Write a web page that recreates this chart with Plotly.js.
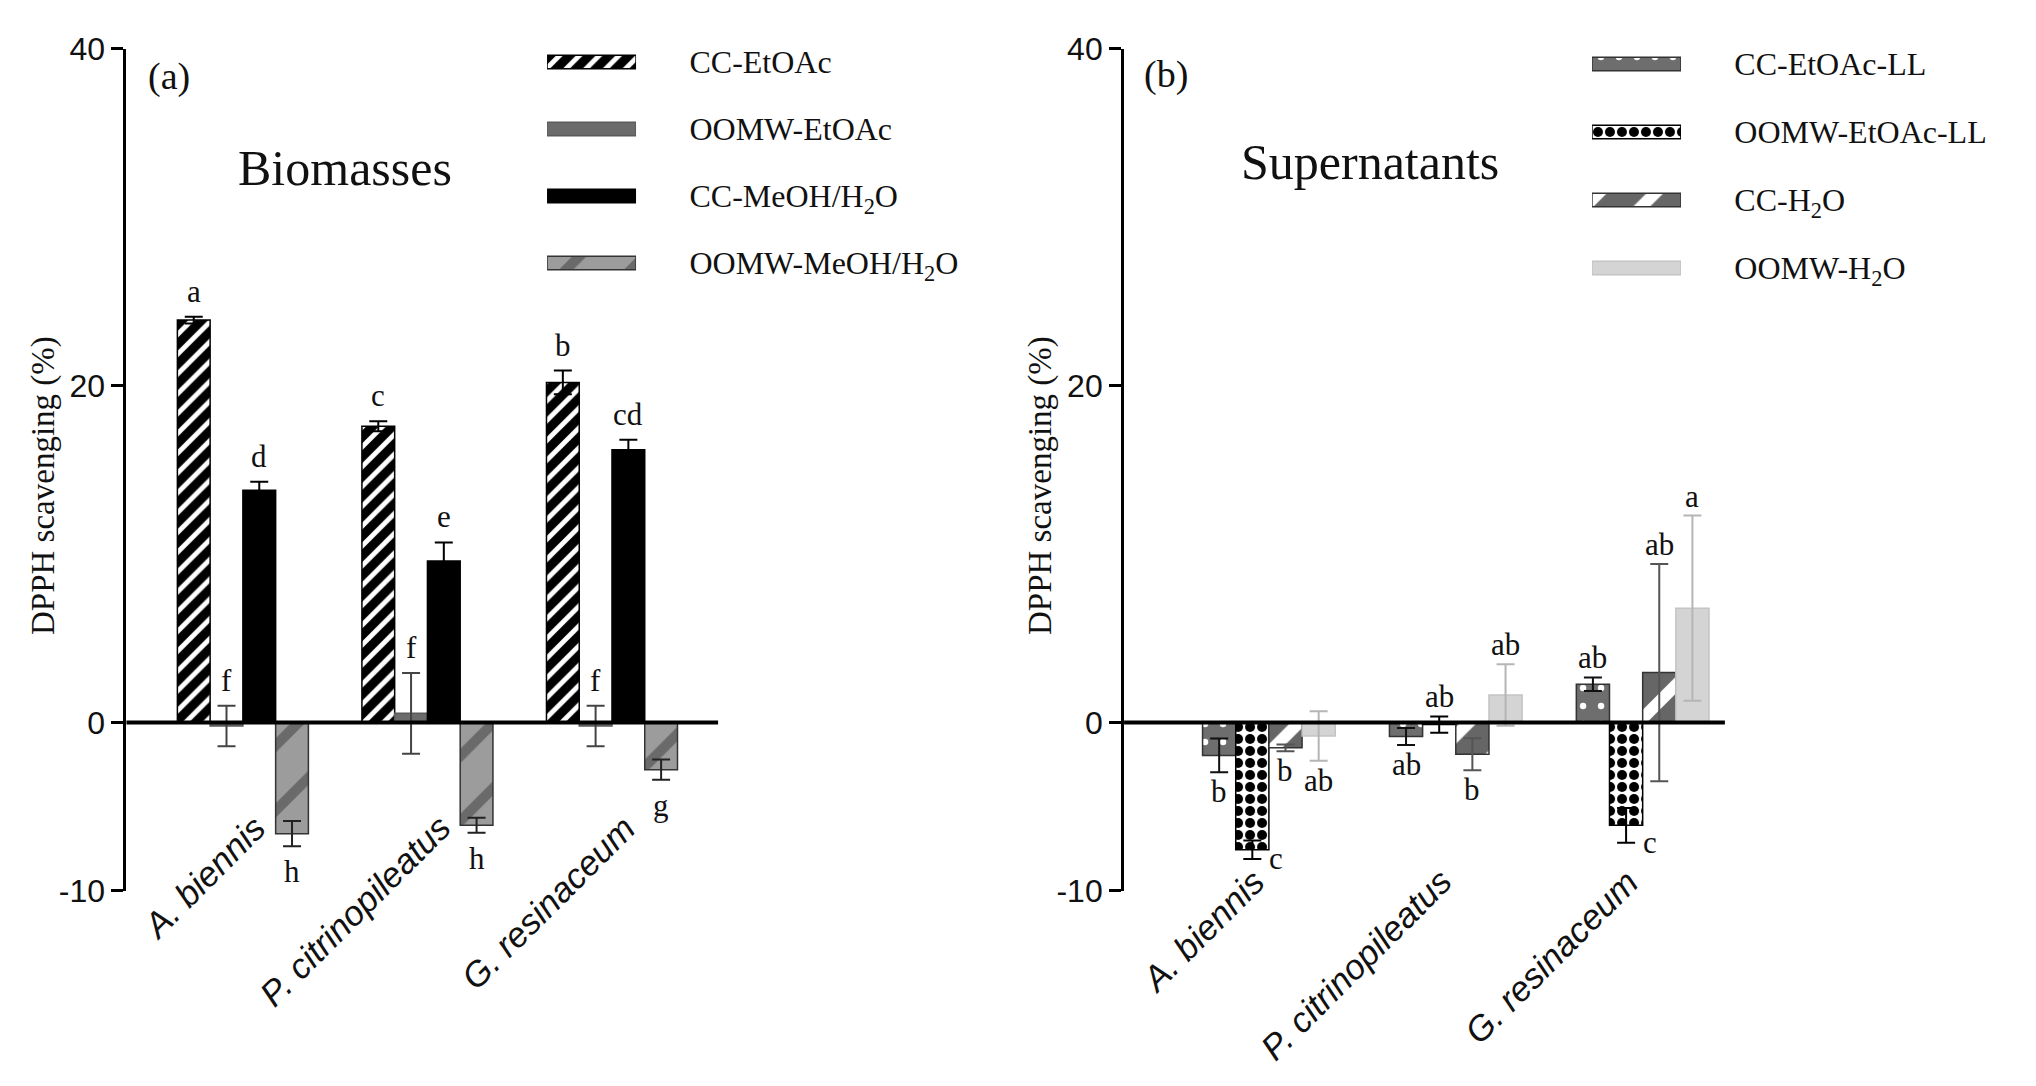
<!DOCTYPE html>
<html>
<head>
<meta charset="utf-8">
<script src="https://cdn.plot.ly/plotly-3.0.1.min.js"></script>
<style>
  html, body { margin: 0; padding: 0; background: #fff; }
  #chart { width: 2036px; height: 1086px; }
</style>
</head>
<body>
<div id="chart"></div>
<script>
// categories (same three fungi in both panels)
const species = ['A. biennis', 'P. citrinopileatus', 'G. resinaceum'];
const yTickVals = [-10, 0, 20, 40];
const yTickText = ['-10', '0', '20', '40'];

// (a) biomasses
const bioNames = ['CC-EtOAc', 'OOMW-EtOAc', 'CC-MeOH/H<sub>2</sub>O', 'OOMW-MeOH/H<sub>2</sub>O'];
const ccEtoac = [23.9, 17.6, 20.2];
const ccEtoacSd = [0.2, 0.3, 0.7];
const oomwEtoac = [-0.2, 0.55, -0.2];
const oomwEtoacSd = [1.2, 2.4, 1.2];
const ccMeoh = [13.8, 9.6, 16.2];
const ccMeohSd = [0.5, 1.1, 0.6];
const oomwMeoh = [-6.6, -6.1, -2.8];
const oomwMeohSd = [0.75, 0.45, 0.6];
const bioLetters = [['a', 'c', 'b'], ['f', 'f', 'f'], ['d', 'e', 'cd'], ['h', 'h', 'g']];

// (b) supernatants
const supNames = ['CC-EtOAc-LL', 'OOMW-EtOAc-LL', 'CC-H<sub>2</sub>O', 'OOMW-H<sub>2</sub>O'];
const ccEtoacLL = [-1.95, -0.83, 2.28];
const ccEtoacLLSd = [1.0, 0.5, 0.4];
const oomwEtoacLL = [-7.55, -0.12, -6.1];
const oomwEtoacLLSd = [0.55, 0.48, 1.03];
const ccH2o = [-1.5, -1.88, 2.97];
const ccH2oSd = [0.2, 0.95, 6.45];
const oomwH2o = [-0.8, 1.64, 6.79];
const oomwH2oSd = [1.47, 1.83, 5.5];
const supLetters = [['b', 'ab', 'ab'], ['c', 'ab', 'c'], ['b', 'b', 'ab'], ['ab', 'ab', 'a']];

// looks of each series
const bioStyle = [
  { bg: '#000000', fg: '#ffffff', shape: '/', size: 14, solidity: 0.35, line: '#000000', err: '#000000' },
  { bg: '#6b6b6b', shape: '', line: '#5a5a5a', err: '#444444' },
  { bg: '#000000', shape: '', line: '#000000', err: '#000000' },
  { bg: '#9c9c9c', fg: '#6a6a6a', shape: '/', size: 46, solidity: 0.22, line: '#333333', err: '#222222' },
];
const supStyle = [
  { bg: '#6e6e6e', fg: '#ffffff', shape: '.', size: 18, solidity: 0.1, line: '#333333', err: '#111111' },
  { bg: '#ffffff', fg: '#000000', shape: '.', size: 12, solidity: 0.55, line: '#000000', err: '#000000', side: true },
  { bg: '#666666', fg: '#ffffff', shape: '/', size: 40, solidity: 0.3, line: '#333333', err: '#555555' },
  { bg: '#d4d4d4', shape: '', line: '#c4c4c4', err: '#b5b5b5' },
];

const BARGAP = 0.29;
const SLOT = (1 - BARGAP) / 4;
const SERIF = 'Liberation Serif, Times New Roman, serif';
const SANS = 'Liberation Sans, Arial, sans-serif';

function markerOf(st) {
  const m = { color: st.bg, line: { color: st.line, width: 1.5 } };
  if (st.shape) {
    m.pattern = {
      shape: st.shape, bgcolor: st.bg, fgcolor: st.fg,
      size: st.size, solidity: st.solidity, fillmode: 'overlay', fgopacity: 1,
    };
  }
  return m;
}

function barTrace(name, vals, sd, st, xa, ya) {
  return {
    type: 'bar', name: name, x: species, y: vals,
    xaxis: xa, yaxis: ya, showlegend: false, hoverinfo: 'skip',
    marker: markerOf(st),
    error_y: { type: 'data', array: sd, visible: true, color: st.err, thickness: 2, width: 9 },
  };
}

function keyTrace(name, st, xa, ya) {
  return {
    type: 'bar', orientation: 'h', x: [1], y: [name], base: 0, width: 0.2,
    offsetgroup: 'key', xaxis: xa, yaxis: ya, showlegend: false, hoverinfo: 'skip',
    marker: markerOf(st),
  };
}

const bioVals = [ccEtoac, oomwEtoac, ccMeoh, oomwMeoh];
const bioSds = [ccEtoacSd, oomwEtoacSd, ccMeohSd, oomwMeohSd];
const supVals = [ccEtoacLL, oomwEtoacLL, ccH2o, oomwH2o];
const supSds = [ccEtoacLLSd, oomwEtoacLLSd, ccH2oSd, oomwH2oSd];

const traces = [];
bioVals.forEach((v, i) => traces.push(barTrace(bioNames[i], v, bioSds[i], bioStyle[i], 'x', 'y')));
supVals.forEach((v, i) => traces.push(barTrace(supNames[i], v, supSds[i], supStyle[i], 'x2', 'y2')));
bioNames.forEach((n, i) => traces.push(keyTrace(n, bioStyle[i], 'x3', 'y3')));
supNames.forEach((n, i) => traces.push(keyTrace(n, supStyle[i], 'x4', 'y4')));

const annotations = [];

// significance letters
function addLetters(vals, sds, letters, styles, xref, yref, lift) {
  vals.forEach((series, si) => {
    series.forEach((v, gi) => {
      const e = sds[si][gi];
      const a = {
        text: letters[si][gi], x: gi + (si - 1.5) * SLOT, xref: xref, yref: yref,
        showarrow: false, font: { family: SERIF, size: 31, color: '#111' },
      };
      if (styles[si].side && v < -0.5) {
        a.y = v - e; a.yanchor = 'middle'; a.xshift = 24;
      } else if (v < -0.5) {
        a.y = v - e; a.yanchor = 'top'; a.yshift = -lift;
      } else {
        a.y = v + e; a.yanchor = 'bottom'; a.yshift = lift;
      }
      annotations.push(a);
    });
  });
}
addLetters(bioVals, bioSds, bioLetters, bioStyle, 'x', 'y', 6);
addLetters(supVals, supSds, supLetters, supStyle, 'x2', 'y2', 0);

// slanted species names
species.forEach((s, gi) => {
  annotations.push({
    text: '<i>' + s + '</i>', x: gi + 0.18, y: -4.9, xref: 'x', yref: 'y',
    xanchor: 'right', yanchor: 'top', textangle: -45, showarrow: false,
    font: { family: SANS, size: 35, color: '#111' },
  });
  annotations.push({
    text: '<i>' + s + '</i>', x: gi + 0.03, y: -8.1, xref: 'x2', yref: 'y2',
    xanchor: 'right', yanchor: 'top', textangle: -45, showarrow: false,
    font: { family: SANS, size: 35, color: '#111' },
  });
});

// panel texts
const W = 2036, H = 1086;
function paperText(text, px, py, size, angle) {
  annotations.push({
    text: text, x: px / W, y: 1 - py / H, xref: 'paper', yref: 'paper',
    xanchor: 'center', yanchor: 'middle', showarrow: false, textangle: angle || 0,
    font: { family: SERIF, size: size, color: '#111' },
  });
}
paperText('DPPH scavenging (%)', 43, 486, 33, -90);
paperText('DPPH scavenging (%)', 1040, 486, 33, -90);
paperText('(a)', 169, 76, 38);
paperText('(b)', 1166, 74, 38);
paperText('Biomasses', 345, 168, 50);
paperText('Supernatants', 1370, 162, 50);

const yBase = {
  range: [-10, 40], tickvals: yTickVals, ticktext: yTickText,
  ticks: 'outside', ticklen: 12, tickwidth: 3, tickcolor: '#000',
  showline: true, linewidth: 3, linecolor: '#000',
  showgrid: false, zeroline: false,
  tickfont: { family: SANS, size: 32, color: '#111' },
  domain: [0.1796, 0.9549], fixedrange: true,
};
const xBase = {
  showline: false, showticklabels: false, ticks: '', showgrid: false,
  zeroline: false, fixedrange: true, type: 'category',
};
const keyX = { range: [0, 1], visible: false, fixedrange: true };
const keyY = {
  side: 'right', ticks: 'outside', ticklen: 46, tickcolor: 'rgba(0,0,0,0)',
  showline: false, showgrid: false, zeroline: false, fixedrange: true,
  tickfont: { family: SERIF, size: 32, color: '#111' }, type: 'category',
};

const layout = {
  width: W, height: H,
  margin: { l: 0, r: 0, t: 0, b: 0 },
  paper_bgcolor: '#fff', plot_bgcolor: 'rgba(0,0,0,0)',
  barmode: 'group', bargap: BARGAP, bargroupgap: 0,
  showlegend: false,
  xaxis: Object.assign({}, xBase, { domain: [0.0621, 0.3527], anchor: 'y', range: [-0.631, 2.575] }),
  yaxis: Object.assign({}, yBase, { anchor: 'x' }),
  xaxis2: Object.assign({}, xBase, { domain: [0.5521, 0.8472], anchor: 'y2', range: [-0.775, 2.44] }),
  yaxis2: Object.assign({}, yBase, { anchor: 'x2' }),
  xaxis3: Object.assign({}, keyX, { domain: [0.2687, 0.3124], anchor: 'y3' }),
  yaxis3: Object.assign({}, keyY, { domain: [0.727, 0.9738], anchor: 'x3', range: [3.5, -0.5] }),
  xaxis4: Object.assign({}, keyX, { domain: [0.7819, 0.8256], anchor: 'y4' }),
  yaxis4: Object.assign({}, keyY, { domain: [0.7219, 0.9724], anchor: 'x4', range: [3.5, -0.5] }),
  shapes: [
    { type: 'line', xref: 'x domain', yref: 'y', x0: 0, x1: 1, y0: 0, y1: 0, line: { color: '#000', width: 4 }, layer: 'above' },
    { type: 'line', xref: 'x2 domain', yref: 'y2', x0: 0, x1: 1, y0: 0, y1: 0, line: { color: '#000', width: 4 }, layer: 'above' },
  ],
  annotations: annotations,
};

Plotly.newPlot('chart', traces, layout, { staticPlot: true, displayModeBar: false });
</script>
</body>
</html>
